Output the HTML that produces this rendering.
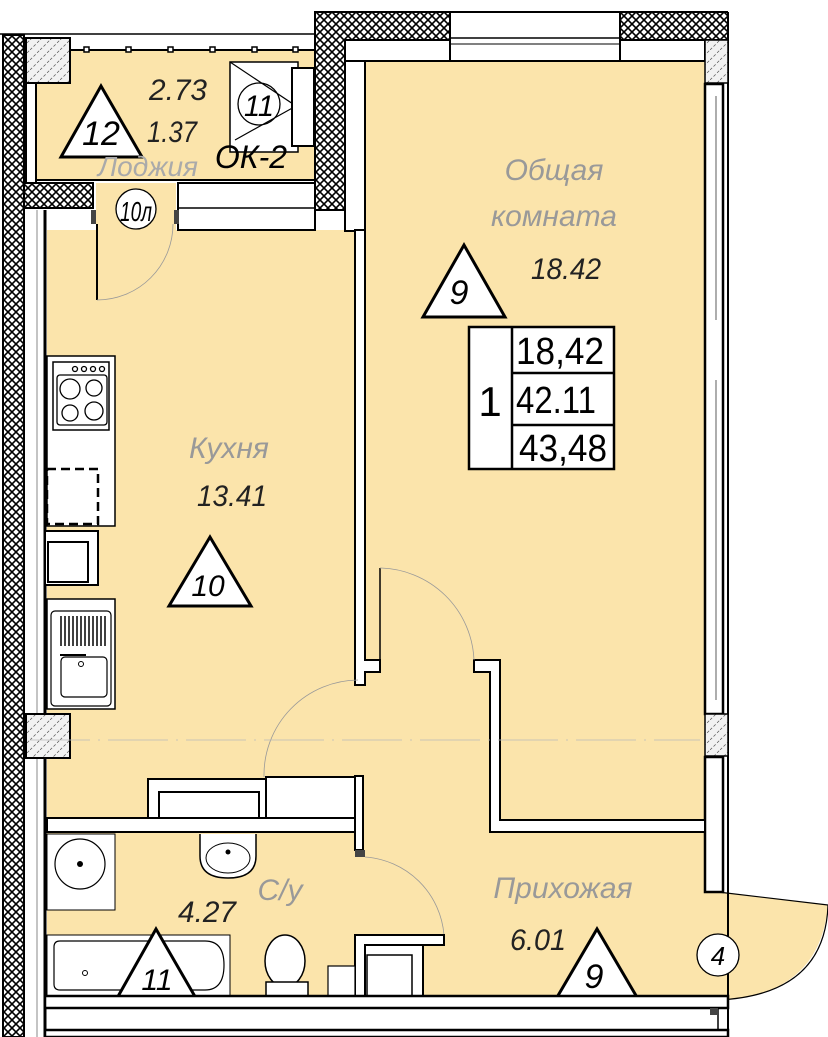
<!DOCTYPE html>
<html><head><meta charset="utf-8"><style>
html,body{margin:0;padding:0;background:#fff;}
svg{display:block}
text{font-family:"Liberation Sans",sans-serif;}
</style></head><body>
<svg width="828" height="1037" viewBox="0 0 828 1037" xmlns="http://www.w3.org/2000/svg">
<defs>
<pattern id="xh" width="8" height="8" patternUnits="userSpaceOnUse">
<rect width="8" height="8" fill="#fff"/>
<path d="M0 0L8 8M8 0L0 8" stroke="#000" stroke-width="1.6"/>
</pattern>
<pattern id="dh" width="10" height="10" patternUnits="userSpaceOnUse">
<rect width="10" height="10" fill="#f2f2f2"/>
<path d="M0 10L10 0" stroke="#555" stroke-width="0.7" stroke-dasharray="3 2"/>
</pattern>
</defs>
<rect width="828" height="1037" fill="#fff"/>
<!-- floors -->
<g fill="#fbe4ab">
<rect x="37" y="50" width="278" height="130"/>
<rect x="96" y="183" width="80" height="50"/>
<rect x="47" y="230" width="309" height="590"/>
<rect x="365" y="61" width="340" height="770"/>
<rect x="356" y="660" width="140" height="180"/>
<rect x="47" y="832" width="660" height="164"/>
<path d="M705 890 L828 905 Q820 995 720 1000 L705 1000Z"/>
</g>
<!-- left exterior wall -->
<rect x="3" y="35" width="21" height="1002" fill="url(#xh)" stroke="#000" stroke-width="2"/>
<line x1="45" y1="210" x2="45" y2="1037" stroke="#000" stroke-width="3"/>
<line x1="37" y1="210" x2="37" y2="1037" stroke="#888" stroke-width="1"/>
<!-- loggia -->
<line x1="0" y1="34" x2="315" y2="34" stroke="#000" stroke-width="1.5"/>
<line x1="65" y1="50" x2="315" y2="50" stroke="#000" stroke-width="2"/>
<g fill="#fff" stroke="#000" stroke-width="1.5">
<rect x="84" y="47" width="5" height="5"/><rect x="126" y="47" width="5" height="5"/><rect x="168" y="47" width="5" height="5"/><rect x="210" y="47" width="5" height="5"/><rect x="252" y="47" width="5" height="5"/><rect x="293" y="47" width="5" height="5"/>
</g>
<rect x="26" y="38" width="44" height="45" fill="url(#dh)" stroke="#000" stroke-width="2"/>
<rect x="26" y="83" width="10" height="100" fill="#fff" stroke="#000" stroke-width="2"/>
<line x1="36" y1="180" x2="315" y2="180" stroke="#000" stroke-width="2"/>
<rect x="230" y="62" width="68" height="90" fill="#fff" stroke="#000" stroke-width="1.5"/>
<path d="M230 62 L296 106 L235 140" fill="none" stroke="#000" stroke-width="1.2"/>
<rect x="292" y="68" width="22" height="78" fill="#fff" stroke="#000" stroke-width="2"/>
<circle cx="259" cy="104" r="21" fill="none" stroke="#000" stroke-width="1.3"/>
<text x="259" y="116" font-size="30" text-anchor="middle" font-style="italic" textLength="30" lengthAdjust="spacingAndGlyphs">11</text>
<path d="M61 157 L101 86 L142 157Z" fill="#fff" stroke="#000" stroke-width="3"/>
<text x="101" y="145" font-size="34" text-anchor="middle" font-style="italic">12</text>
<text x="178" y="100" font-size="30" text-anchor="middle" font-style="italic" fill="#222" textLength="58" lengthAdjust="spacingAndGlyphs">2.73</text>
<text x="172" y="142" font-size="30" text-anchor="middle" font-style="italic" fill="#222" textLength="50" lengthAdjust="spacingAndGlyphs">1.37</text>
<text x="148" y="176" font-size="28" text-anchor="middle" font-style="italic" fill="#aaa">Лоджия</text>
<text x="251" y="168" font-size="32" text-anchor="middle" font-style="italic">ОК-2</text>
<!-- wall under loggia -->
<rect x="24" y="183" width="69" height="25" fill="url(#xh)" stroke="#000" stroke-width="2"/>
<rect x="178" y="183" width="137" height="47" fill="#fff" stroke="#000" stroke-width="2"/>
<line x1="178" y1="208" x2="315" y2="208" stroke="#000" stroke-width="1.5"/>
<rect x="91" y="210" width="5" height="14" fill="#444"/>
<rect x="174" y="210" width="5" height="14" fill="#444"/>
<circle cx="136" cy="209" r="20" fill="#fff" stroke="#000" stroke-width="1.3"/>
<text x="136" y="221" font-size="28" text-anchor="middle" font-style="italic" textLength="32" lengthAdjust="spacingAndGlyphs">10л</text>
<line x1="97" y1="224" x2="97" y2="300" stroke="#000" stroke-width="2"/>
<path d="M97 300 A76 76 0 0 0 173 224" fill="none" stroke="#999" stroke-width="0.8"/>
<!-- room top wall + left pier -->
<path d="M315 12 L828 12 L828 40 L345 40 L345 210 L315 210Z" fill="url(#xh)" stroke="#000" stroke-width="2"/>
<rect x="450" y="12" width="170" height="49" fill="#fff" stroke="#000" stroke-width="2"/>
<line x1="450" y1="38" x2="620" y2="38" stroke="#000" stroke-width="1.5"/>
<line x1="450" y1="44" x2="620" y2="44" stroke="#000" stroke-width="1"/>
<rect x="728" y="0" width="100" height="12" fill="#fff"/>
<rect x="729" y="12" width="99" height="880" fill="#fff"/>
<line x1="728" y1="12" x2="728" y2="1037" stroke="#000" stroke-width="2"/>
<rect x="620" y="40" width="85" height="21" fill="#fff" stroke="#000" stroke-width="2"/>
<rect x="345" y="40" width="105" height="21" fill="#fff" stroke="#000" stroke-width="2"/>
<rect x="345" y="61" width="20" height="170" fill="#fff" stroke="#000" stroke-width="2"/>
<!-- right wall -->
<rect x="705" y="40" width="23" height="43" fill="url(#dh)" stroke="#000" stroke-width="1.5"/>
<rect x="705" y="84" width="18" height="630" fill="#fff" stroke="#000" stroke-width="2.5"/>
<rect x="705" y="714" width="23" height="42" fill="url(#dh)" stroke="#000" stroke-width="1.5"/>
<rect x="705" y="757" width="18" height="135" fill="#fff" stroke="#000" stroke-width="2.5"/>
<line x1="716" y1="96" x2="716" y2="320" stroke="#777" stroke-width="1.2"/>
<line x1="716" y1="380" x2="716" y2="700" stroke="#777" stroke-width="1.2"/>
<!-- door to hall exterior -->
<path d="M718 892 L828 905 Q825 995 718 1000" fill="none" stroke="#000" stroke-width="1.2"/>
<line x1="718" y1="1000" x2="718" y2="1037" stroke="#000" stroke-width="1.5"/>
<circle cx="718" cy="955" r="21" fill="#fff" stroke="#000" stroke-width="1.3"/>
<text x="718" y="965" font-size="26" text-anchor="middle" font-style="italic">4</text>
<!-- kitchen/room partition -->
<path d="M355 230 L365 230 L365 660 L380 660 L380 672 L365 672 L365 685 L355 685Z" fill="#fff" stroke="#000" stroke-width="2"/>
<path d="M490 830 L490 672 L474 672 L474 660 L500 660 L500 820 L705 820 L705 832 L490 832Z" fill="#fff" stroke="#000" stroke-width="2"/>
<line x1="380" y1="568" x2="380" y2="660" stroke="#000" stroke-width="1.5"/>
<path d="M380 568 A96 96 0 0 1 474 660" fill="none" stroke="#999" stroke-width="0.8"/>
<!-- kitchen bottom wall -->
<path d="M47 818 L360 818 L360 850 L355 850 L355 832 L47 832Z" fill="#fff" stroke="#000" stroke-width="2"/>
<rect x="148" y="779" width="118" height="39" fill="#fff" stroke="#000" stroke-width="2"/>
<rect x="159" y="792" width="100" height="26" fill="#fff" stroke="#000" stroke-width="2"/>
<rect x="266" y="777" width="90" height="41" fill="#fff" stroke="#000" stroke-width="2"/>
<rect x="355" y="776" width="8" height="74" fill="#fff" stroke="#000" stroke-width="2"/>
<path d="M264 777 A95 95 0 0 1 358 680" fill="none" stroke="#999" stroke-width="0.8"/>
<!-- kitchen fixtures -->
<rect x="47" y="356" width="68" height="170" fill="#fff" stroke="#000" stroke-width="1.5"/>
<rect x="53" y="362" width="56" height="68" fill="#fff" stroke="#000" stroke-width="1.5"/>
<rect x="57" y="375" width="50" height="50" rx="3" fill="#fff" stroke="#000" stroke-width="1.3"/>
<g fill="none" stroke="#000" stroke-width="1.3">
<circle cx="70" cy="389" r="10"/><circle cx="94" cy="388" r="8"/><circle cx="70" cy="413" r="8"/><circle cx="94" cy="411" r="9"/>
<circle cx="75" cy="369" r="2.5"/><circle cx="84" cy="369" r="2.5"/><circle cx="93" cy="369" r="2.5"/><circle cx="102" cy="369" r="2.5"/>
</g>
<rect x="47" y="469" width="51" height="55" fill="none" stroke="#000" stroke-width="2.5" stroke-dasharray="9 5"/>
<rect x="45" y="531" width="53" height="54" fill="#fff" stroke="#000" stroke-width="2"/>
<rect x="48" y="542" width="40" height="40" fill="#fff" stroke="#000" stroke-width="2"/>
<rect x="47" y="599" width="68" height="110" fill="#fff" stroke="#000" stroke-width="1.5"/>
<rect x="51" y="611" width="60" height="95" rx="4" fill="#fff" stroke="#000" stroke-width="1.2"/>
<g stroke="#000" stroke-width="1.5">
<line x1="61" y1="616" x2="61" y2="646"/><line x1="65" y1="616" x2="65" y2="646"/><line x1="69" y1="616" x2="69" y2="646"/><line x1="73" y1="616" x2="73" y2="646"/><line x1="77" y1="616" x2="77" y2="646"/><line x1="81" y1="616" x2="81" y2="646"/><line x1="85" y1="616" x2="85" y2="646"/><line x1="89" y1="616" x2="89" y2="646"/><line x1="93" y1="616" x2="93" y2="646"/><line x1="97" y1="616" x2="97" y2="646"/><line x1="101" y1="616" x2="101" y2="646"/><line x1="105" y1="616" x2="105" y2="646"/>
</g>
<rect x="61" y="657" width="46" height="40" rx="4" fill="none" stroke="#000" stroke-width="1.2"/>
<circle cx="81" cy="664" r="2.5" fill="none" stroke="#000"/>
<line x1="60" y1="655" x2="86" y2="655" stroke="#000" stroke-width="2"/>
<rect x="26" y="714" width="44" height="44" fill="url(#dh)" stroke="#000" stroke-width="2"/>
<line x1="30" y1="740" x2="700" y2="740" stroke="#bbb" stroke-width="0.8" stroke-dasharray="60 8 2 8"/>
<text x="229" y="458" font-size="30" text-anchor="middle" font-style="italic" fill="#999">Кухня</text>
<text x="232" y="506" font-size="30" text-anchor="middle" font-style="italic" fill="#222" textLength="70" lengthAdjust="spacingAndGlyphs">13.41</text>
<path d="M169 606 L210 537 L251 606Z" fill="#fff" stroke="#000" stroke-width="3"/>
<text x="208" y="596" font-size="30" text-anchor="middle" font-style="italic">10</text>
<!-- room labels -->
<text x="554" y="180" font-size="30" text-anchor="middle" font-style="italic" fill="#999">Общая</text>
<text x="554" y="226" font-size="30" text-anchor="middle" font-style="italic" fill="#999">комната</text>
<text x="566" y="279" font-size="30" text-anchor="middle" font-style="italic" fill="#222" textLength="70" lengthAdjust="spacingAndGlyphs">18.42</text>
<path d="M423 317 L464 245 L505 317Z" fill="#fff" stroke="#000" stroke-width="3"/>
<text x="459" y="304" font-size="34" text-anchor="middle" font-style="italic">9</text>
<rect x="469" y="327" width="145" height="142" fill="#fff" stroke="#000" stroke-width="2.5"/>
<line x1="512" y1="327" x2="512" y2="469" stroke="#000" stroke-width="2.5"/>
<line x1="512" y1="373" x2="614" y2="373" stroke="#000" stroke-width="2.5"/>
<line x1="512" y1="425" x2="614" y2="425" stroke="#000" stroke-width="2.5"/>
<text x="490" y="416" font-size="42" text-anchor="middle">1</text>
<text x="560" y="364" font-size="38" text-anchor="middle" textLength="88" lengthAdjust="spacingAndGlyphs">18,42</text>
<text x="556" y="413" font-size="38" text-anchor="middle" textLength="80" lengthAdjust="spacingAndGlyphs">42.11</text>
<text x="563" y="461" font-size="38" text-anchor="middle" textLength="88" lengthAdjust="spacingAndGlyphs">43,48</text>
<!-- bathroom -->
<path d="M355 850 L365 850 L365 857 L355 857Z" fill="#444"/>
<path d="M365 857 A85 85 0 0 1 444 935" fill="none" stroke="#999" stroke-width="0.8"/>
<path d="M355 935 L444 935 L444 945 L365 945 L365 996 L355 996Z" fill="#fff" stroke="#000" stroke-width="2"/>
<rect x="365" y="945" width="58" height="51" fill="#fff" stroke="#000" stroke-width="2"/>
<rect x="367" y="955" width="45" height="41" fill="#fff" stroke="#000" stroke-width="1.5"/>
<rect x="47" y="834" width="68" height="76" fill="#fff" stroke="#000" stroke-width="1"/>
<circle cx="80" cy="864" r="25" fill="none" stroke="#000" stroke-width="1.2"/>
<circle cx="80" cy="864" r="3" fill="#000"/>
<path d="M200 834 L200 856 Q200 878 228 878 Q256 878 256 856 L256 834" fill="#fff" stroke="#000" stroke-width="1.5"/>
<ellipse cx="228" cy="858" rx="22" ry="15" fill="none" stroke="#000" stroke-width="1"/>
<circle cx="228" cy="852" r="2.5" fill="#000"/>
<rect x="47" y="935" width="183" height="61" fill="#fff" stroke="#000" stroke-width="1"/>
<path d="M60 941 L205 941 Q224 941 224 965 Q224 990 205 990 L60 990 Q54 990 54 984 L54 947 Q54 941 60 941Z" fill="none" stroke="#000" stroke-width="1.2"/>
<circle cx="85" cy="973" r="2.5" fill="none" stroke="#000"/>
<ellipse cx="285" cy="961" rx="20" ry="26" fill="#fff" stroke="#000" stroke-width="1.5"/>
<rect x="266" y="982" width="42" height="14" fill="#fff" stroke="#000" stroke-width="1.5"/>
<circle cx="287" cy="999" r="2" fill="none" stroke="#000"/>
<rect x="328" y="966" width="27" height="30" fill="#fff" stroke="#000" stroke-width="1.2"/>
<path d="M116 1000 L156 929 L197 1000Z" fill="#fff" stroke="#000" stroke-width="3"/>
<text x="157" y="990" font-size="30" text-anchor="middle" font-style="italic">11</text>
<text x="207" y="922" font-size="30" text-anchor="middle" font-style="italic" fill="#222" textLength="58" lengthAdjust="spacingAndGlyphs">4.27</text>
<text x="280" y="900" font-size="30" text-anchor="middle" font-style="italic" fill="#999">С/у</text>
<!-- hall -->
<text x="563" y="898" font-size="30" text-anchor="middle" font-style="italic" fill="#999">Прихожая</text>
<text x="538" y="950" font-size="30" text-anchor="middle" font-style="italic" fill="#222" textLength="56" lengthAdjust="spacingAndGlyphs">6.01</text>
<path d="M556 999 L597 929 L638 999Z" fill="#fff" stroke="#000" stroke-width="3"/>
<text x="594" y="988" font-size="34" text-anchor="middle" font-style="italic">9</text>
<!-- bottom wall -->
<rect x="45" y="996" width="683" height="12" fill="#fff" stroke="#000" stroke-width="2.5"/>
<rect x="45" y="1030" width="683" height="7" fill="#fff" stroke="#000" stroke-width="2.5"/>
<rect x="710" y="1008" width="8" height="7" fill="#444"/>
</svg>
</body></html>
